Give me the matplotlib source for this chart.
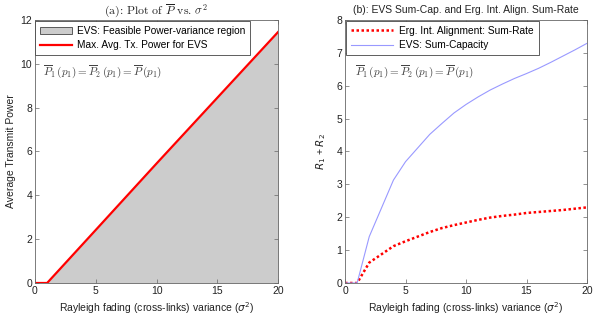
import matplotlib
matplotlib.use("Agg")
import matplotlib.pyplot as plt
from matplotlib.patches import Patch
from matplotlib.lines import Line2D

plt.rcParams['font.family'] = ['Liberation Sans', 'DejaVu Sans']
plt.rcParams['font.size'] = 7.5

# Left panel data
sig_left = [0, 1, 5, 10, 15, 20]
power_left = [0, 0, 2.42, 5.45, 8.45, 11.45]

# Right panel data
sig_right = [0, 0.5, 1, 2, 4, 5, 7, 8, 9, 10, 11, 12, 13, 14, 15, 16, 17, 18, 19, 20]
sum_cap = [0, 0, 0, 1.41, 3.13, 3.69, 4.52, 4.85, 5.17, 5.43, 5.66, 5.87, 6.05, 6.22,
           6.37, 6.53, 6.71, 6.90, 7.09, 7.29]
ia_rate = [0, 0, 0, 0.62, 1.12, 1.27, 1.55, 1.67, 1.76, 1.84, 1.92, 1.99, 2.04, 2.08,
           2.13, 2.16, 2.19, 2.22, 2.26, 2.3]

fig = plt.figure(figsize=(5.98, 3.15), dpi=100)
ax1 = fig.add_axes([0.0585, 0.1016, 0.4065, 0.835])
ax2 = fig.add_axes([0.577, 0.1016, 0.4046, 0.835])

spine_c = '#666666'
for ax in (ax1, ax2):
    for s in ax.spines.values():
        s.set_color(spine_c)
        s.set_linewidth(0.6)
    ax.tick_params(direction='in', top=True, right=True, length=3, width=0.5,
                   color=spine_c, labelsize=7.5, labelcolor='#222222', pad=2)

# Left
ax1.fill_between(sig_left, power_left, 0, color='#cccccc', linewidth=0)
ax1.plot(sig_left, power_left, color='#ff0000', lw=1.6)
ax1.set_xlim(0, 20)
ax1.set_ylim(0, 12)
ax1.set_xticks([0, 5, 10, 15, 20])
ax1.set_yticks([0, 2, 4, 6, 8, 10, 12])
ax1.set_xlabel(r'Rayleigh fading (cross-links) variance ($\sigma^2$)', fontsize=7.5, color='#222222', labelpad=3)
ax1.set_ylabel('Average Transmit Power', fontsize=7.5, color='#222222', labelpad=3)
ax1.set_title(r'(a): Plot of $\overline{P}$ vs. $\sigma^2$', fontsize=8.5, family='cmr10',
              math_fontfamily='cm', color='#222222', pad=4)
h1 = [Patch(facecolor='#cccccc', edgecolor='#444444', linewidth=0.6),
      Line2D([], [], color='#ff0000', lw=1.6)]
leg1 = ax1.legend(h1, ['EVS: Feasible Power-variance region', 'Max. Avg. Tx. Power for EVS'],
                  loc='upper left', bbox_to_anchor=(0.0, 0.995), fancybox=False, framealpha=1,
                  edgecolor='#444444', fontsize=7.3, handlelength=3.2, borderpad=0.45,
                  labelspacing=0.45, borderaxespad=0.0, handletextpad=0.5)
leg1.get_frame().set_linewidth(0.6)
ax1.text(0.66, 9.6, r'$\overline{P}_1\,(p_1) = \overline{P}_2\,(p_1) = \overline{P}\,(p_1)$',
         fontsize=8, math_fontfamily='cm', color='#444444', va='center', ha='left')

# Right
ax2.plot(sig_right, ia_rate, color='#ff0000', lw=1.8, linestyle=(0, (1, 1)),
         label='Erg. Int. Alignment: Sum-Rate')
ax2.plot(sig_right, sum_cap, color='#9999ff', lw=0.8, label='EVS: Sum-Capacity')
ax2.set_xlim(0, 20)
ax2.set_ylim(0, 8)
ax2.set_xticks([0, 5, 10, 15, 20])
ax2.set_yticks(range(0, 9))
ax2.set_xlabel(r'Rayleigh fading (cross-links) variance ($\sigma^2$)', fontsize=7.5, color='#222222', labelpad=3)
ax2.set_ylabel(r'$R_1$ + $R_2$', fontsize=7.5, color='#222222', labelpad=6)
ax2.set_title('(b): EVS Sum-Cap. and Erg. Int. Align. Sum-Rate', fontsize=7.5,
              color='#222222', pad=5)
leg2 = ax2.legend(loc='upper left', bbox_to_anchor=(0.005, 0.995), fancybox=False, framealpha=1,
                  edgecolor='#444444', fontsize=7.3, handlelength=4.2, borderpad=0.45,
                  labelspacing=0.45, borderaxespad=0.0, handletextpad=0.6)
leg2.get_frame().set_linewidth(0.6)
ax2.text(0.83, 6.41, r'$\overline{P}_1\,(p_1) = \overline{P}_2\,(p_1) = \overline{P}\,(p_1)$',
         fontsize=8, math_fontfamily='cm', color='#444444', va='center', ha='left')

fig.savefig('out.png', dpi=100)
